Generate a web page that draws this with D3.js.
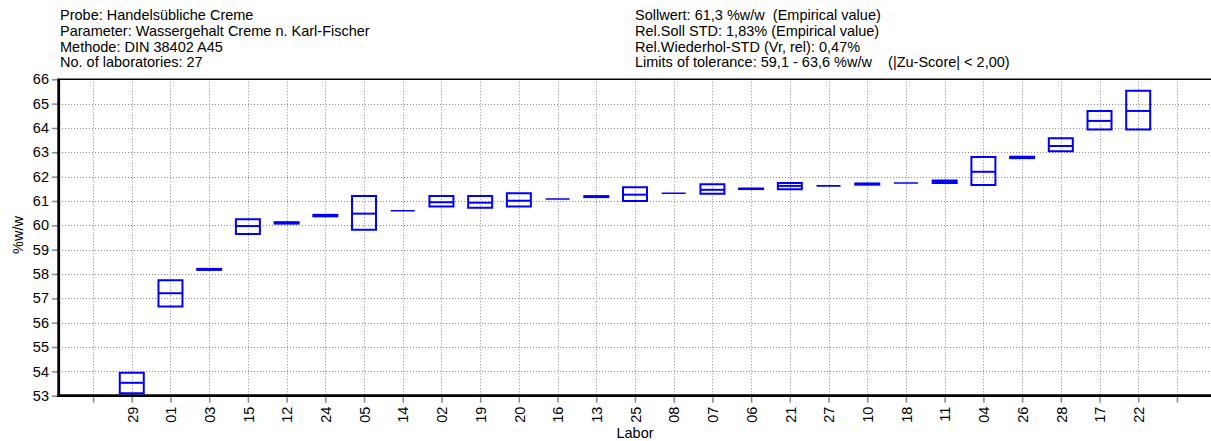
<!DOCTYPE html>
<html>
<head>
<meta charset="utf-8">
<script src="https://cdn.jsdelivr.net/npm/d3@7"></script>
<style>
  html, body { margin: 0; padding: 0; background: #fff; }
  svg { display: block; font-family: "Liberation Sans", Arial, sans-serif; }
</style>
</head>
<body>
<svg id="chart" width="1211" height="441"></svg>
<script>
// Header lines (left and right block)
const headerLeft = [
  "Probe: Handelsübliche Creme",
  "Parameter: Wassergehalt Creme n. Karl-Fischer",
  "Methode: DIN 38402 A45",
  "No. of laboratories: 27"
];
const headerRight = [
  "Sollwert: 61,3 %w/w  (Empirical value)",
  "Rel.Soll STD: 1,83% (Empirical value)",
  "Rel.Wiederhol-STD (Vr, rel): 0,47%",
  "Limits of tolerance: 59,1 - 63,6 %w/w    (|Zu-Score| < 2,00)"
];

// Laboratories in plotted order
const labs = ["29","01","03","15","12","24","05","14","02","19","20","16","13","25",
              "08","07","06","21","27","10","18","11","04","26","28","17","22"];
// Lowest, median and highest result per laboratory (%w/w)
const lowValues  = [53.10,56.67,58.17,59.64,60.07,60.37,59.82,60.60,60.77,60.72,60.77,61.08,61.16,61.00,
                    61.32,61.30,61.49,61.48,61.62,61.67,61.74,61.74,61.66,62.76,63.04,63.94,63.94];
const medValues  = [53.53,57.21,58.19,59.97,60.10,60.40,60.48,60.60,60.95,60.93,61.01,61.08,61.18,61.26,
                    61.32,61.46,61.50,61.62,61.62,61.70,61.74,61.79,62.20,62.79,63.26,64.29,64.70];
const highValues = [53.94,57.74,58.21,60.25,60.13,60.43,61.20,60.60,61.20,61.20,61.32,61.08,61.20,61.56,
                    61.32,61.69,61.51,61.74,61.62,61.72,61.74,61.84,62.81,62.82,63.58,64.70,65.53];

// Axis tick values and titles
const yTicks = [53,54,55,56,57,58,59,60,61,62,63,64,65,66];
const xTickLabels = [""].concat(labs, [""]);
const yTitle = "%w/w";
const xTitle = "Labor";

const svg = d3.select("#chart");
const plot = { left: 59, right: 1211, top: 79.3, bottom: 395.7 };

const x = d3.scalePoint()
  .domain(d3.range(xTickLabels.length))
  .range([plot.left, plot.right])
  .padding(0.88);

const y = d3.scaleLinear()
  .domain([53, 66])
  .range([plot.bottom, plot.top]);

const gridColor = "#8a8a8a";
const tickColor = "#8a8a8a";
const fontSize = 14.5;

// Header text
const header = svg.append("g").attr("font-size", fontSize).attr("fill", "#000");
header.selectAll("text.hl").data(headerLeft).join("text")
  .attr("class", "hl")
  .attr("x", 60)
  .attr("y", (d, i) => 20 + i * 15.8)
  .style("white-space", "pre")
  .text(d => d);
header.selectAll("text.hr").data(headerRight).join("text")
  .attr("class", "hr")
  .attr("x", 635)
  .attr("y", (d, i) => 20 + i * 15.8)
  .style("white-space", "pre")
  .text(d => d);

// Grid lines
const grid = svg.append("g")
  .attr("stroke", gridColor)
  .attr("stroke-width", 1)
  .attr("stroke-dasharray", "1,2");
grid.selectAll("line.h").data(yTicks.filter(v => v > 53 && v < 66)).join("line")
  .attr("class", "h")
  .attr("x1", plot.left).attr("x2", plot.right)
  .attr("y1", d => Math.round(y(d)) + 0.5).attr("y2", d => Math.round(y(d)) + 0.5);
grid.selectAll("line.v").data(x.domain()).join("line")
  .attr("class", "v")
  .attr("x1", d => Math.round(x(d)) + 0.5).attr("x2", d => Math.round(x(d)) + 0.5)
  .attr("y1", plot.top).attr("y2", plot.bottom);

// Y axis
const yAxis = svg.append("g")
  .attr("transform", `translate(${plot.left},0)`)
  .call(d3.axisLeft(y).tickValues(yTicks).tickFormat(d3.format("d")).tickSize(7).tickPadding(3));
yAxis.select(".domain").remove();
yAxis.selectAll(".tick line").attr("stroke", tickColor).attr("stroke-width", 1.5);
yAxis.selectAll(".tick text")
  .attr("font-size", fontSize)
  .attr("font-family", "Liberation Sans, Arial, sans-serif")
  .attr("fill", "#000");

// X axis
const xAxis = svg.append("g")
  .attr("transform", `translate(0,${plot.bottom})`)
  .call(d3.axisBottom(x).tickFormat(i => xTickLabels[i]).tickSize(7).tickPadding(3));
xAxis.select(".domain").remove();
xAxis.selectAll(".tick line").attr("stroke", tickColor).attr("stroke-width", 1.5);
xAxis.selectAll(".tick text")
  .attr("font-size", fontSize)
  .attr("font-family", "Liberation Sans, Arial, sans-serif")
  .attr("fill", "#000")
  .attr("transform", "rotate(-90)")
  .attr("x", -11)
  .attr("y", 0)
  .attr("dy", "0.36em")
  .style("text-anchor", "end");

// Frame: top border and heavy left/bottom axis lines
svg.append("line")
  .attr("x1", plot.left).attr("x2", plot.right)
  .attr("y1", plot.top).attr("y2", plot.top)
  .attr("stroke", "#000").attr("stroke-width", 1.6);
svg.append("line")
  .attr("x1", plot.left - 0.3).attr("x2", plot.left - 0.3)
  .attr("y1", plot.top - 0.8).attr("y2", plot.bottom + 1.4)
  .attr("stroke", "#000").attr("stroke-width", 2.8);
svg.append("line")
  .attr("x1", plot.left - 1.7).attr("x2", plot.right)
  .attr("y1", plot.bottom).attr("y2", plot.bottom)
  .attr("stroke", "#000").attr("stroke-width", 2.8);

// Boxes: low..high with a median line
const boxW = x.step() * 0.62;
const rows = labs.map((lab, i) => ({
  idx: i + 1, lab, low: lowValues[i], med: medValues[i], high: highValues[i]
}));
const boxes = svg.append("g")
  .attr("fill", "none")
  .attr("stroke", "#0000ff")
  .attr("stroke-width", 2);
boxes.selectAll("path.box").data(rows).join("path")
  .attr("class", "box")
  .attr("d", d => {
    const x0 = x(d.idx) - boxW / 2, x1 = x(d.idx) + boxW / 2;
    const yh = y(d.high), yl = y(d.low);
    return `M${x0},${yh}H${x1}V${yl}H${x0}Z`;
  })
  .attr("stroke-width", d => (d.high - d.low) < 0.001 ? 1.6 : 2);
boxes.selectAll("line.med").data(rows.filter(d => d.high - d.low > 0.001)).join("line")
  .attr("class", "med")
  .attr("x1", d => x(d.idx) - boxW / 2).attr("x2", d => x(d.idx) + boxW / 2)
  .attr("y1", d => y(d.med)).attr("y2", d => y(d.med));

// Axis titles
svg.append("text")
  .attr("transform", `translate(17.5,235) rotate(-90)`)
  .attr("text-anchor", "middle")
  .attr("dominant-baseline", "central")
  .attr("font-size", fontSize)
  .text(yTitle);
svg.append("text")
  .attr("x", (plot.left + plot.right) / 2)
  .attr("y", 438)
  .attr("text-anchor", "middle")
  .attr("font-size", fontSize)
  .text(xTitle);
</script>
</body>
</html>
